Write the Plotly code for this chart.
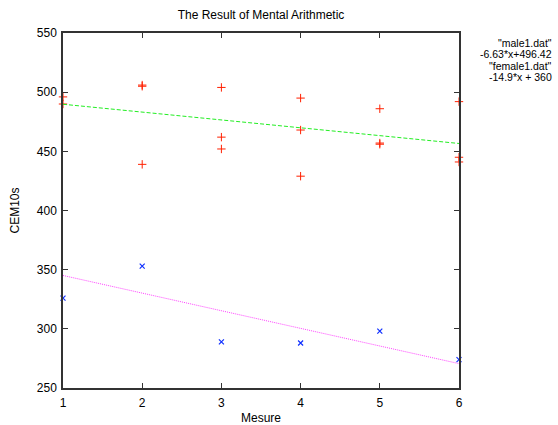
import numpy as np
import plotly.graph_objects as go

# Data
male_x = [1, 1, 2, 2, 2, 3, 3, 3, 4, 4, 4, 5, 5, 5, 6, 6, 6]
male_y = [496, 490, 506, 505, 439, 504, 462, 452, 495, 468, 429, 486, 457, 456, 492, 445, 441]
female_x = [1, 2, 3, 4, 5, 6]
female_y = [326, 353, 289, 288, 298, 274]
male_fit = [-6.63, 496.42]     # slope, intercept
female_fit = [-14.9, 360.0]
legend_labels = ['"male1.dat"', '-6.63*x+496.42', '"female1.dat"', '-14.9*x + 360']
x_ticks = [1, 2, 3, 4, 5, 6]
y_ticks = [250, 300, 350, 400, 450, 500, 550]

fx = np.array([1.0, 6.0])
fig = go.Figure()
fig.add_trace(go.Scatter(x=male_x, y=male_y, mode="markers", name=legend_labels[0], cliponaxis=False,
                         marker=dict(symbol="cross-thin", size=6, line=dict(color="#ff2000", width=1))))
fig.add_trace(go.Scatter(x=fx, y=male_fit[0] * fx + male_fit[1], mode="lines", name=legend_labels[1],
                         line=dict(color="#22ee22", width=1, dash="4px,2px")))
fig.add_trace(go.Scatter(x=female_x, y=female_y, mode="markers", name=legend_labels[2], cliponaxis=False,
                         marker=dict(symbol="x-thin", size=5, line=dict(color="#1030ff", width=1.2))))
fig.add_trace(go.Scatter(x=fx, y=female_fit[0] * fx + female_fit[1], mode="lines", name=legend_labels[3],
                         line=dict(color="#ff44ff", width=1, dash="1px,1px")))

for i, t in enumerate(legend_labels):
    fig.add_annotation(text=t, xref="paper", yref="paper", x=1 + (554 - 459) / 396, y=1 - (10 + 11.3 * i) / 356,
                       xanchor="right", yanchor="middle", showarrow=False,
                       font=dict(size=10.5, color="black"))

axis_common = dict(showline=True, linecolor="#333333", linewidth=1.5, mirror="ticks",
                   ticks="inside", ticklen=5, tickcolor="#333333", showgrid=False, zeroline=False,
                   automargin=False, tickfont=dict(size=12, color="black"))
fig.update_xaxes(range=[1, 6], tickvals=x_ticks, ticklabelstandoff=3,
                 title=dict(text="Mesure", font=dict(size=12), standoff=7), **axis_common)
fig.update_yaxes(range=[250, 550], tickvals=y_ticks, ticklabelstandoff=2,
                 title=dict(text="CEM10s", font=dict(size=12), standoff=15), **axis_common)
fig.update_layout(width=558, height=425, margin=dict(l=63, r=99, t=32.5, b=36.5),
                  paper_bgcolor="white", plot_bgcolor="white", showlegend=False,
                  font=dict(family="Liberation Sans, Arial, sans-serif", size=12, color="black"),
                  title=dict(text="The Result of Mental Arithmetic", x=(63 + 459) / 2 / 558, xanchor="center",
                             y=1 - 15 / 425, yanchor="middle", font=dict(size=12)))
fig.write_html("out.html")
